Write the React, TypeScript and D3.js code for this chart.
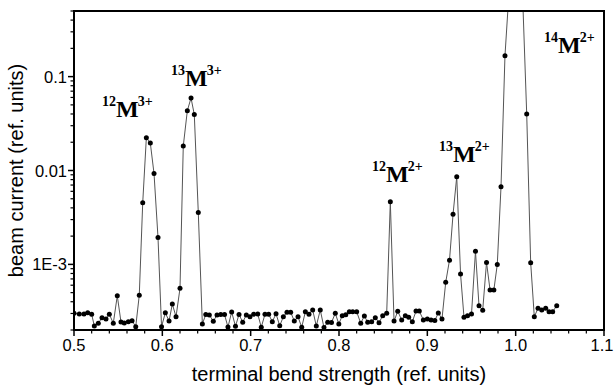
import React from 'react';
import * as d3 from 'd3';

// terminal bend strength (ref. units)
const xValues = [
  0.5000, 0.5060, 0.5113, 0.5155, 0.5200, 0.5230, 0.5275, 0.5317, 0.5362, 0.5400,
  0.5445, 0.5490, 0.5532, 0.5569, 0.5615, 0.5657, 0.5699, 0.5739, 0.5778, 0.5819,
  0.5864, 0.5906, 0.5951, 0.5991, 0.6034, 0.6076, 0.6113, 0.6155, 0.6200, 0.6237,
  0.6283, 0.6325, 0.6362, 0.6407, 0.6453, 0.6492, 0.6532, 0.6577, 0.6619, 0.6661,
  0.6704, 0.6743, 0.6785, 0.6828, 0.6868, 0.6910, 0.6951, 0.6992, 0.7034, 0.7080,
  0.7120, 0.7162, 0.7204, 0.7245, 0.7287, 0.7329, 0.7370, 0.7411, 0.7453, 0.7494,
  0.7536, 0.7578, 0.7619, 0.7660, 0.7702, 0.7743, 0.7788, 0.7830, 0.7872, 0.7915,
  0.7958, 0.7998, 0.8037, 0.8077, 0.8117, 0.8155, 0.8200, 0.8246, 0.8287, 0.8325,
  0.8370, 0.8411, 0.8453, 0.8495, 0.8540, 0.8581, 0.8623, 0.8665, 0.8710, 0.8751,
  0.8789, 0.8830, 0.8872, 0.8909, 0.8955, 0.9000, 0.9042, 0.9085, 0.9124, 0.9166,
  0.9208, 0.9251, 0.9291, 0.9333, 0.9376, 0.9415, 0.9455, 0.9500, 0.9545, 0.9585,
  0.9627, 0.9670, 0.9710, 0.9753, 0.9792, 0.9834, 0.9879, 0.9919, 0.9959, 0.9998,
  1.0038, 1.0078, 1.0125, 1.0170, 1.0211, 1.0253, 1.0295, 1.0340, 1.0378, 1.0419,
  1.0465,
];

// beam current (ref. units)
const yValues = [
  3.01e-4, 2.96e-4, 2.96e-4, 3.05e-4, 2.94e-4, 2.21e-4, 2.36e-4, 2.70e-4, 2.62e-4, 2.94e-4,
  2.36e-4, 4.63e-4, 2.43e-4, 2.38e-4, 2.45e-4, 2.51e-4, 2.17e-4, 4.69e-4, 4.54e-3, 0.0223,
  0.0196, 9.29e-3, 1.93e-3, 2.17e-4, 3.05e-4, 2.49e-4, 3.78e-4, 2.77e-4, 5.56e-4, 0.0182,
  0.0434, 0.0592, 0.0394, 3.57e-3, 2.32e-4, 2.92e-4, 2.89e-4, 2.48e-4, 2.89e-4, 2.92e-4,
  2.92e-4, 2.15e-4, 3.11e-4, 2.19e-4, 2.93e-4, 2.42e-4, 2.89e-4, 2.77e-4, 2.94e-4, 2.96e-4,
  2.14e-4, 2.94e-4, 2.94e-4, 2.45e-4, 2.98e-4, 2.22e-4, 2.77e-4, 3.09e-4, 3.09e-4, 2.49e-4,
  2.77e-4, 2.14e-4, 3.13e-4, 2.94e-4, 3.27e-4, 2.21e-4, 3.27e-4, 2.12e-4, 2.42e-4, 2.41e-4,
  3.01e-4, 2.32e-4, 2.84e-4, 2.90e-4, 3.13e-4, 3.13e-4, 3.13e-4, 2.36e-4, 2.82e-4, 2.42e-4,
  2.45e-4, 2.70e-4, 2.39e-4, 2.84e-4, 3.01e-4, 4.66e-3, 2.49e-4, 3.16e-4, 2.56e-4, 2.84e-4,
  2.73e-4, 2.45e-4, 3.18e-4, 3.18e-4, 2.56e-4, 2.62e-4, 2.56e-4, 2.53e-4, 3.03e-4, 2.62e-4,
  6.44e-4, 1.11e-3, 3.41e-3, 8.59e-3, 7.90e-4, 2.73e-4, 2.84e-4, 2.96e-4, 1.38e-3, 3.62e-4,
  3.25e-4, 1.05e-3, 5.33e-4, 5.33e-4, 1.00e-3, 6.71e-3, 0.167, 0.655, 1.37, 1.55,
  1.21, 0.74, 0.040, 1.04e-3, 2.77e-4, 3.40e-4, 3.27e-4, 3.40e-4, 3.13e-4, 3.13e-4,
  3.63e-4,
];

const xTickValues = [0.5, 0.6, 0.7, 0.8, 0.9, 1.0, 1.1];
const xTickLabels = ['0.5', '0.6', '0.7', '0.8', '0.9', '1.0', '1.1'];
const yTickValues = [0.001, 0.01, 0.1];
const yTickLabels = ['1E-3', '0.01', '0.1'];

const peakMass = ['12', '13', '12', '13', '14'];
const peakCharge = ['3+', '3+', '2+', '2+', '2+'];
const peakLabelX = [0.5317, 0.6098, 0.8374, 0.9132, 1.0321];
const peakLabelY = [0.0372, 0.0794, 0.00753, 0.01232, 0.1786];

const W = 614;
const H = 387;
const left = 74, right = 604, top = 11, bottom = 330;

export default function App() {
  const x = d3.scaleLinear().domain([0.5, 1.1]).range([left, right]);
  const y = d3.scaleLog().domain([2e-4, 0.5]).range([bottom, top]);

  const pts = xValues.map((v, i) => [v, yValues[i]] as [number, number]);
  const line = d3.line<[number, number]>().x(d => x(d[0])).y(d => y(d[1]));

  const xMinor = d3.range(0, 31).map(i => 0.5 + i * 0.02).filter(v => !xTickValues.some(t => Math.abs(t - v) < 1e-9));
  const yMinor: number[] = [];
  for (const dec of [1e-4, 1e-3, 1e-2, 1e-1]) {
    for (let k = 2; k <= 9; k++) {
      const v = dec * k;
      if (v >= 2e-4 - 1e-12 && v <= 0.5 + 1e-12) yMinor.push(v);
    }
  }

  const sans = '"Liberation Sans", Arial, sans-serif';
  const serif = '"Liberation Serif", "Times New Roman", serif';

  return (
    <svg width={W} height={H} style={{ position: 'absolute', left: 0, top: 0, background: '#fff' }}>
      <defs>
        <clipPath id="plotClip">
          <rect x={left} y={top} width={right - left} height={bottom - top} />
        </clipPath>
      </defs>
      <rect x={0} y={0} width={W} height={H} fill="#fff" />
      <g clipPath="url(#plotClip)">
        <path d={line(pts) || ''} fill="none" stroke="#555" strokeWidth={1} />
        {pts.map((p, i) => (
          <circle key={i} cx={x(p[0])} cy={y(p[1])} r={2.5} fill="#000" />
        ))}
      </g>
      {/* frame */}
      <rect x={left} y={top} width={right - left} height={bottom - top} fill="none" stroke="#000" strokeWidth={2} />
      {/* x ticks */}
      {xTickValues.map((v, i) => (
        <g key={'xt' + i}>
          <line x1={x(v)} x2={x(v)} y1={bottom} y2={bottom + 6} stroke="#000" strokeWidth={1.5} />
          <text x={Math.min(x(v), W - 12)} y={bottom + 21} textAnchor="middle" fontFamily={sans} fontSize={16.5} fill="#000">{xTickLabels[i]}</text>
        </g>
      ))}
      {xMinor.map((v, i) => (
        <line key={'xm' + i} x1={x(v)} x2={x(v)} y1={bottom} y2={bottom + 3.5} stroke="#000" strokeWidth={1.2} />
      ))}
      {/* y ticks */}
      {yTickValues.map((v, i) => (
        <g key={'yt' + i}>
          <line x1={left - 6} x2={left} y1={y(v)} y2={y(v)} stroke="#000" strokeWidth={1.5} />
          <text x={left - 7} y={y(v) + 6} textAnchor="end" fontFamily={sans} fontSize={16.5} fill="#000">{yTickLabels[i]}</text>
        </g>
      ))}
      {yMinor.map((v, i) => (
        <line key={'ym' + i} x1={left - 3.5} x2={left} y1={y(v)} y2={y(v)} stroke="#000" strokeWidth={1.2} />
      ))}
      {/* axis titles */}
      <text x={(left + right) / 2} y={381} textAnchor="middle" fontFamily={sans} fontSize={20} fill="#000">
        terminal bend strength (ref. units)
      </text>
      <text transform={`translate(23, ${(top + bottom) / 2}) rotate(-90)`} textAnchor="middle" fontFamily={sans} fontSize={20} fill="#000">
        beam current (ref. units)
      </text>
      {/* peak labels */}
      {peakMass.map((m, i) => (
        <text key={'pl' + i} x={x(peakLabelX[i])} y={y(peakLabelY[i])} fontFamily={serif} fontWeight="bold" fill="#000">
          <tspan fontSize={14} dy={-11}>{m}</tspan>
          <tspan fontSize={24} dy={11}>M</tspan>
          <tspan fontSize={14} dy={-11} dx={-1}>{peakCharge[i]}</tspan>
        </text>
      ))}
    </svg>
  );
}
